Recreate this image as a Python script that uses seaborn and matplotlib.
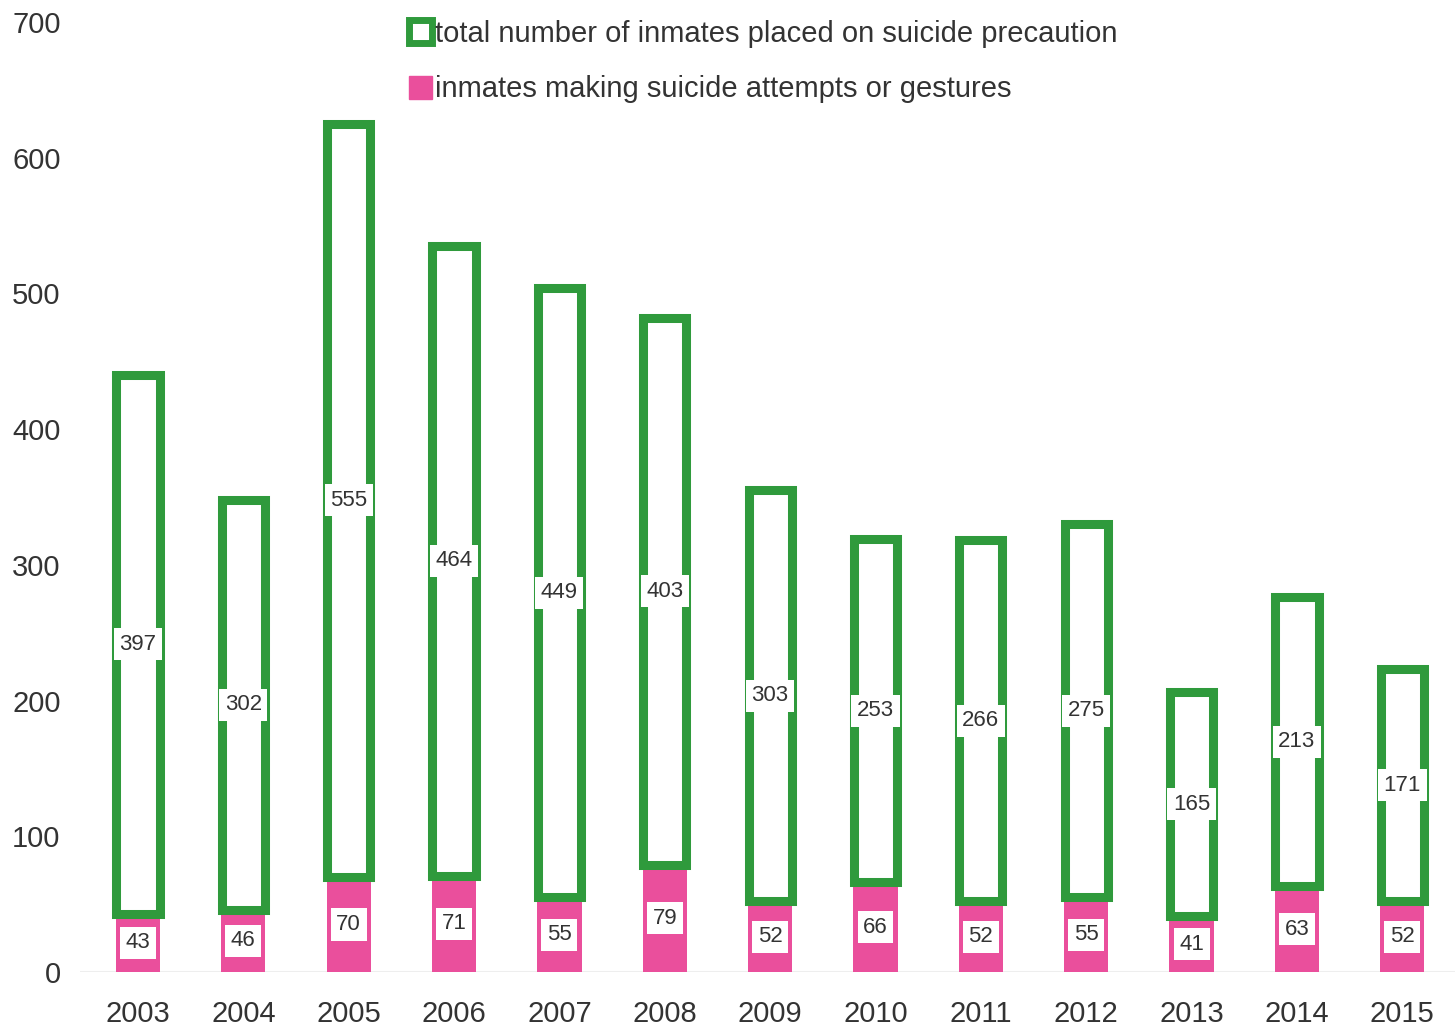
import matplotlib
matplotlib.use("Agg")
import matplotlib.pyplot as plt
from matplotlib.patches import Patch
import seaborn as sns
import pandas as pd

years = ['2003', '2004', '2005', '2006', '2007', '2008', '2009',
         '2010', '2011', '2012', '2013', '2014', '2015']
attempts = [43, 46, 70, 71, 55, 79, 52, 66, 52, 55, 41, 63, 52]
precaution = [397, 302, 555, 464, 449, 403, 303, 253, 266, 275, 165, 213, 171]

green = '#2f9a3c'
pink = '#ea4f9c'

sns.set_theme(style='white')
plt.rcParams['font.family'] = ['Liberation Sans', 'DejaVu Sans']

df = pd.DataFrame({'year': years, 'attempts': attempts, 'precaution': precaution})

fig = plt.figure(figsize=(14.55, 10.29), dpi=100)
ax = fig.add_axes([0.055, 0.0554, 0.945, 0.9232])

sns.barplot(data=df, x='year', y='attempts', color=pink, width=0.42,
            saturation=1, edgecolor=pink, linewidth=0, ax=ax)
sns.barplot(data=df, x='year', y='precaution', color='white', width=0.41,
            saturation=1, edgecolor=green, linewidth=6.5, bottom=df['attempts'], ax=ax)

box = dict(boxstyle='square,pad=0.25', facecolor='white', edgecolor='none')
for i, (a, p) in enumerate(zip(attempts, precaution)):
    ax.text(i, a / 2, str(a), ha='center', va='center', fontsize=16,
            color='#333333', bbox=box)
    ax.text(i, a + p / 2, str(p), ha='center', va='center', fontsize=16,
            color='#333333', bbox=box)

ax.set_ylim(0, 700)
ax.set_xlim(-0.55, 12.5)
ax.set_yticks(range(0, 701, 100))
ax.set_xlabel('')
ax.set_ylabel('')
ax.tick_params(axis='both', labelsize=21, colors='#333333', length=0)
ax.tick_params(axis='x', pad=20)
ax.tick_params(axis='y', pad=14)
ax.axhline(0, color='#eeeeee', linewidth=1.5, zorder=0)
sns.despine(ax=ax, left=True, bottom=True)

handles = [Patch(facecolor='white', edgecolor=green, linewidth=5,
                 label='total number of inmates placed on suicide precaution'),
           Patch(facecolor=pink, edgecolor=pink,
                 label='inmates making suicide attempts or gestures')]
ax.legend(handles=handles, loc='upper left', bbox_to_anchor=(0.22, 1.03),
          frameon=False, fontsize=21, handlelength=0.8, handleheight=0.8,
          handletextpad=0.1, labelspacing=0.95, labelcolor='#333333')

fig.savefig('out.png', dpi=100)
